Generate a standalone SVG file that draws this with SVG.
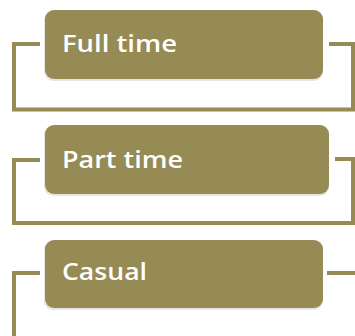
<svg xmlns="http://www.w3.org/2000/svg" width="355" height="336" viewBox="0 0 355 336">
<style>
.box{fill:#968A55}
.shadow{fill:#d8d6cc;opacity:0.6}
.conn{fill:none;stroke:#968A55;stroke-width:4;stroke-linejoin:miter}
.lbl{font-family:"Open Sans","Liberation Sans",sans-serif;font-weight:600;font-size:24px;fill:#ffffff}
</style>
<rect width="355" height="336" fill="#ffffff"/>
<g id="connectors">
<path class="conn" d="M40,44 H14 V109.5 H353 V44 H329"/>
<path class="conn" d="M40,160 H14 V223 H353 V159 H335"/>
<path class="conn" d="M40,273 H14 V336"/>
<path class="conn" d="M327,273 H355"/>
</g>
<g id="node-full-time">
<rect class="shadow" x="44" y="11" width="279" height="70" rx="9"/>
<rect class="box" x="45" y="10" width="278" height="69" rx="9"/>
<text class="lbl" x="62" y="52" textLength="115" lengthAdjust="spacingAndGlyphs">Full time</text>
</g>
<g id="node-part-time">
<rect class="shadow" x="44" y="126" width="285" height="70" rx="9"/>
<rect class="box" x="45" y="125" width="284" height="69" rx="9"/>
<text class="lbl" x="62" y="168" textLength="121" lengthAdjust="spacingAndGlyphs">Part time</text>
</g>
<g id="node-casual">
<rect class="shadow" x="44" y="241" width="279" height="69" rx="9"/>
<rect class="box" x="45" y="240" width="278" height="68" rx="9"/>
<text class="lbl" x="62" y="280" textLength="85" lengthAdjust="spacingAndGlyphs">Casual</text>
</g>
</svg>
